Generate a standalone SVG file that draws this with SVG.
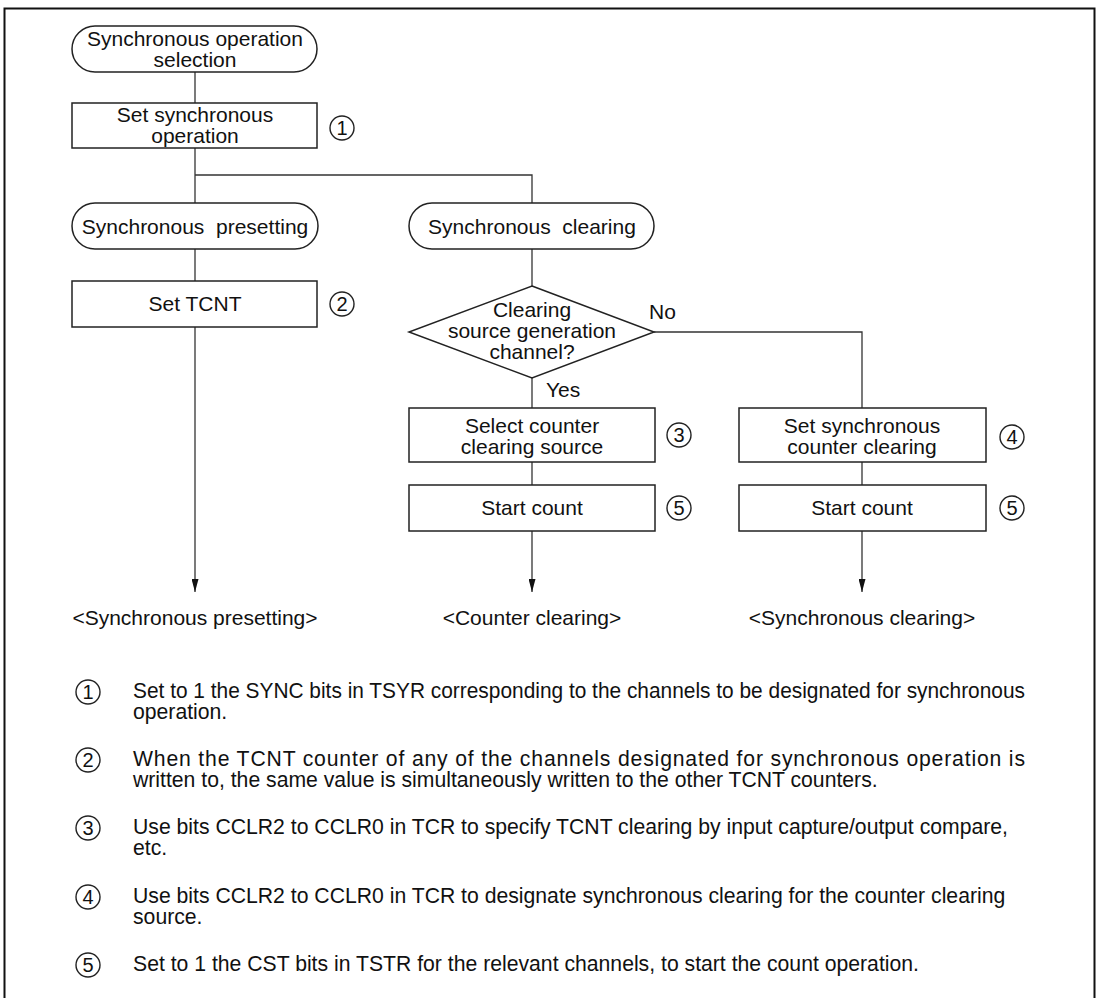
<svg xmlns="http://www.w3.org/2000/svg" width="1100" height="998" viewBox="0 0 1100 998">
<defs>
<style>
text{font-family:"Liberation Sans",Arial,sans-serif;fill:#111;}
.t{font-size:21px;text-anchor:middle;}
.l{font-size:21px;}
.n{font-size:21.2px;}
.d{font-size:20px;text-anchor:middle;}
.shape{fill:#fff;stroke:#222;stroke-width:1.5;}
.c{fill:none;stroke:#222;stroke-width:1.4;}
.ln{fill:none;stroke:#333;stroke-width:1.3;}
</style>
<marker id="ah" markerWidth="13" markerHeight="7" refX="13" refY="3.5" orient="auto" markerUnits="userSpaceOnUse" viewBox="0 0 13 7">
<path d="M0,0 L13,3.5 L0,7 Z" fill="#111"/>
</marker>
</defs>
<rect width="1100" height="998" fill="#fff"/>
<path d="M4.5,1000 V8.5 H1094.5 V1000" fill="none" stroke="#111" stroke-width="2"/>

<g id="connectors">
<path class="ln" d="M195,72 V103"/>
<path class="ln" d="M195,148 V203"/>
<path class="ln" d="M195,175 H532 V203"/>
<path class="ln" d="M195,249 V281"/>
<path class="ln" d="M195,327 V592" marker-end="url(#ah)"/>
<path class="ln" d="M532,249 V286"/>
<path class="ln" d="M654,332 H862 V408"/>
<path class="ln" d="M532,378 V408"/>
<path class="ln" d="M532,462 V485"/>
<path class="ln" d="M532,531 V592" marker-end="url(#ah)"/>
<path class="ln" d="M862,462 V485"/>
<path class="ln" d="M862,531 V592" marker-end="url(#ah)"/>
<text class="l" x="649" y="319">No</text>
<text class="l" x="546" y="397">Yes</text>
</g>

<g id="start">
<rect class="shape" x="72" y="26" width="245" height="46" rx="23" ry="23"/>
<text class="t" x="195" y="45.5">Synchronous operation</text>
<text class="t" x="195" y="66.5">selection</text>
</g>

<g id="set-sync">
<rect class="shape" x="72" y="103" width="245" height="45"/>
<text class="t" x="195" y="121.5">Set synchronous</text>
<text class="t" x="195" y="142.5">operation</text>
<circle class="c" cx="342" cy="128" r="12"/>
<text class="d" x="342" y="135">1</text>
</g>

<g id="sync-presetting">
<rect class="shape" x="72" y="203" width="246" height="46" rx="23" ry="23"/>
<text class="t" x="195" y="234" xml:space="preserve">Synchronous  presetting</text>
</g>

<g id="set-tcnt">
<rect class="shape" x="72" y="281" width="245" height="46"/>
<text class="t" x="195" y="311">Set TCNT</text>
<circle class="c" cx="342" cy="304" r="12"/>
<text class="d" x="342" y="311">2</text>
</g>

<g id="sync-clearing">
<rect class="shape" x="409" y="203" width="245" height="46" rx="23" ry="23"/>
<text class="t" x="532" y="234" xml:space="preserve">Synchronous  clearing</text>
</g>

<g id="decision">
<path class="shape" d="M532,286 L654,332 L532,378 L409,332 Z"/>
<text class="t" x="532" y="317">Clearing</text>
<text class="t" x="532" y="338">source generation</text>
<text class="t" x="532" y="359">channel?</text>
</g>

<g id="select-source">
<rect class="shape" x="409" y="408" width="246" height="54"/>
<text class="t" x="532" y="433">Select counter</text>
<text class="t" x="532" y="454">clearing source</text>
<circle class="c" cx="679" cy="435" r="12"/>
<text class="d" x="679" y="442">3</text>
</g>

<g id="start-count-a">
<rect class="shape" x="409" y="485" width="246" height="46"/>
<text class="t" x="532" y="515">Start count</text>
<circle class="c" cx="679" cy="508" r="12"/>
<text class="d" x="679" y="515">5</text>
</g>

<g id="set-sync-clear">
<rect class="shape" x="739" y="408" width="247" height="54"/>
<text class="t" x="862" y="433">Set synchronous</text>
<text class="t" x="862" y="454">counter clearing</text>
<circle class="c" cx="1012" cy="437" r="12"/>
<text class="d" x="1012" y="444">4</text>
</g>

<g id="start-count-b">
<rect class="shape" x="739" y="485" width="247" height="46"/>
<text class="t" x="862" y="515">Start count</text>
<circle class="c" cx="1012" cy="508" r="12"/>
<text class="d" x="1012" y="515">5</text>
</g>

<g id="results">
<text class="t" x="195" y="625">&lt;Synchronous presetting&gt;</text>
<text class="t" x="532" y="625">&lt;Counter clearing&gt;</text>
<text class="t" x="862" y="625">&lt;Synchronous clearing&gt;</text>
</g>

<g id="notes">
<circle class="c" cx="88" cy="692" r="12"/>
<text class="d" x="88" y="699">1</text>
<text class="n" x="133" y="698" textLength="892" lengthAdjust="spacingAndGlyphs">Set to 1 the SYNC bits in TSYR corresponding to the channels to be designated for synchronous</text>
<text class="n" x="133" y="719">operation.</text>

<circle class="c" cx="88" cy="760" r="12"/>
<text class="d" x="88" y="767">2</text>
<text class="n" x="133" y="766" textLength="892" lengthAdjust="spacing">When the TCNT counter of any of the channels designated for synchronous operation is</text>
<text class="n" x="133" y="787">written to, the same value is simultaneously written to the other TCNT counters.</text>

<circle class="c" cx="88" cy="828" r="12"/>
<text class="d" x="88" y="835">3</text>
<text class="n" x="133" y="834">Use bits CCLR2 to CCLR0 in TCR to specify TCNT clearing by input capture/output compare,</text>
<text class="n" x="133" y="855">etc.</text>

<circle class="c" cx="88" cy="897" r="12"/>
<text class="d" x="88" y="904">4</text>
<text class="n" x="133" y="903">Use bits CCLR2 to CCLR0 in TCR to designate synchronous clearing for the counter clearing</text>
<text class="n" x="133" y="924">source.</text>

<circle class="c" cx="88" cy="965" r="12"/>
<text class="d" x="88" y="972">5</text>
<text class="n" x="133" y="971">Set to 1 the CST bits in TSTR for the relevant channels, to start the count operation.</text>
</g>
</svg>
